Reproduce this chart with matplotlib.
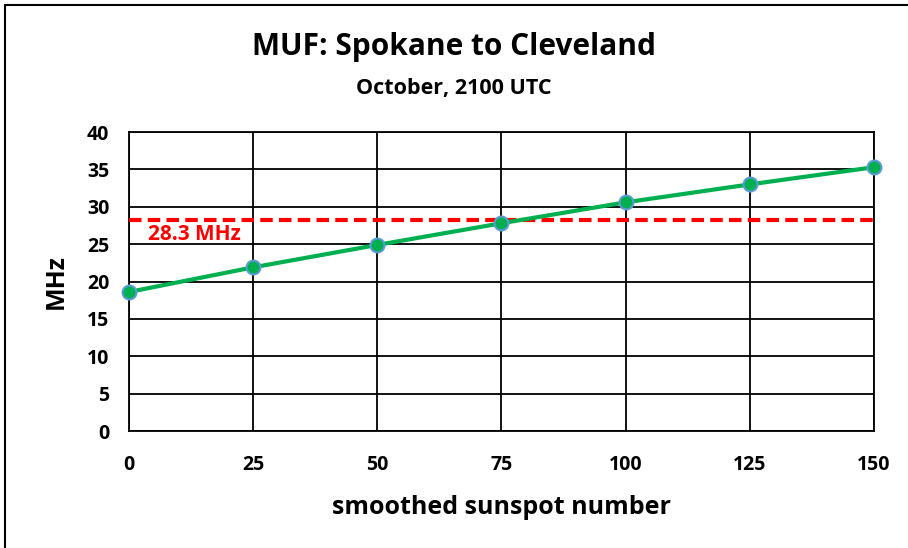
import matplotlib.pyplot as plt
from matplotlib.patches import Rectangle

plt.rcParams['font.family'] = ['Open Sans', 'DejaVu Sans']
plt.rcParams['font.weight'] = 'bold'

sunspots = [0, 25, 50, 75, 100, 125, 150]
muf = [18.6, 21.9, 24.9, 27.8, 30.6, 33.0, 35.3]
ten_meter = 28.3

fig = plt.figure(figsize=(9.08, 5.48), dpi=100)
ax = fig.add_axes([0.142, 0.2135, 0.8206, 0.5455])

ax.axhline(ten_meter, color='#FF0000', lw=3, ls=(0, (3, 1.5)), zorder=3)
ax.text(3.8, 26.3, '28.3 MHz', color='#FF0000', fontsize=15, fontweight='bold',
        va='center', ha='left', zorder=4)
ax.plot(sunspots, muf, color='#00B050', lw=3, marker='o', markersize=10,
        markerfacecolor='#00B050', markeredgecolor='#5B9BD5', markeredgewidth=1.5,
        zorder=5, clip_on=False)

ax.set_xlim(0, 150)
ax.set_ylim(0, 40)
ax.set_xticks(sunspots)
ax.set_yticks(range(0, 41, 5))
ax.grid(True, color='black', lw=1.3)
ax.set_axisbelow(True)
for s in ax.spines.values():
    s.set_color('black')
    s.set_linewidth(1.3)
ax.tick_params(length=0, labelsize=14, pad=17)
ax.tick_params(axis='y', pad=14)
for lbl in ax.get_xticklabels() + ax.get_yticklabels():
    lbl.set_fontweight('bold')

ax.set_xlabel('smoothed sunspot number', fontsize=18, fontweight='bold', labelpad=15)
ax.set_ylabel('MHz', fontsize=18, fontweight='bold', labelpad=13)

fig.text(0.5, 0.915, 'MUF: Spokane to Cleveland', ha='center', va='center',
         fontsize=21.5, fontweight='bold')
fig.text(0.5, 0.839, 'October, 2100 UTC', ha='center', va='center',
         fontsize=15.5, fontweight='bold')

fig.patches.append(Rectangle((5 / 908, -0.1), 1.2, 1.1 - 5 / 548, transform=fig.transFigure,
                             fill=False, edgecolor='black', lw=1.5))

fig.savefig('out.png', dpi=100)
